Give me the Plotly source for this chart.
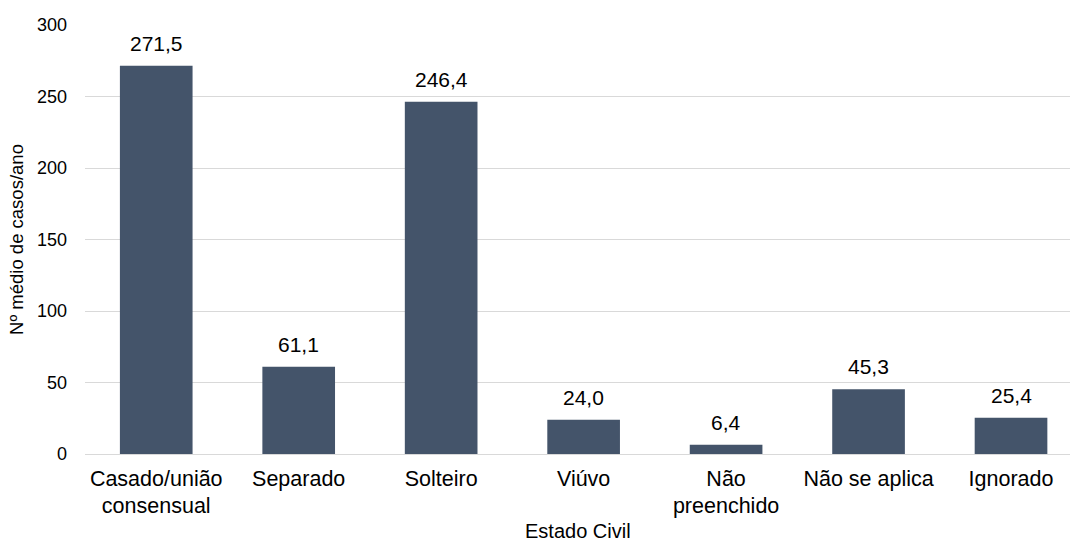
import plotly.graph_objects as go

categorias = ["Casado/união<br>consensual", "Separado", "Solteiro", "Viúvo",
              "Não<br>preenchido", "Não se aplica", "Ignorado"]
valores = [271.5, 61.1, 246.4, 24.0, 6.4, 45.3, 25.4]
y_ticks = [0, 50, 100, 150, 200, 250, 300]

FONT = "Liberation Sans, Arial, sans-serif"
fig = go.Figure()
fig.add_trace(go.Bar(
    x=list(range(len(categorias))), y=valores,
    marker=dict(color="#44546A", line=dict(width=0)),
    width=0.51,
))
for i, v in enumerate(valores):
    fig.add_annotation(x=i, y=v, text=f"{v:.1f}".replace(".", ","),
                       showarrow=False, yanchor="bottom", yshift=9,
                       font=dict(family=FONT, size=21, color="#000000"))

fig.add_annotation(xref="paper", yref="paper", x=0.5, y=-0.2098, yanchor="bottom",
                   text="Estado Civil", showarrow=False,
                   font=dict(family=FONT, size=20, color="#000000"))

fig.update_layout(
    width=1070, height=544,
    margin=dict(l=85, r=0, t=25, b=90),
    plot_bgcolor="white", paper_bgcolor="white",
    showlegend=False,
    font=dict(family=FONT, size=16, color="#000000"),
    xaxis=dict(
        tickmode="array", tickvals=list(range(len(categorias))), ticktext=categorias,
        range=[-0.5, 6.414], showgrid=False, zeroline=False, showline=False,
        ticks="", ticklabelstandoff=9,
        tickfont=dict(family=FONT, size=21.5, color="#000000"),
    ),
    yaxis=dict(
        range=[0, 300], tickvals=y_ticks, showgrid=True, gridcolor="#D9D9D9",
        gridwidth=1, zeroline=True, zerolinecolor="#D9D9D9", zerolinewidth=1,
        showline=False, ticks="", ticklabelstandoff=17,
        tickfont=dict(family=FONT, size=18, color="#000000"),
        title=dict(text="Nº médio de casos/ano", standoff=8,
                   font=dict(family=FONT, size=18.5, color="#000000")),
    ),
)
fig.write_html("out.html")
